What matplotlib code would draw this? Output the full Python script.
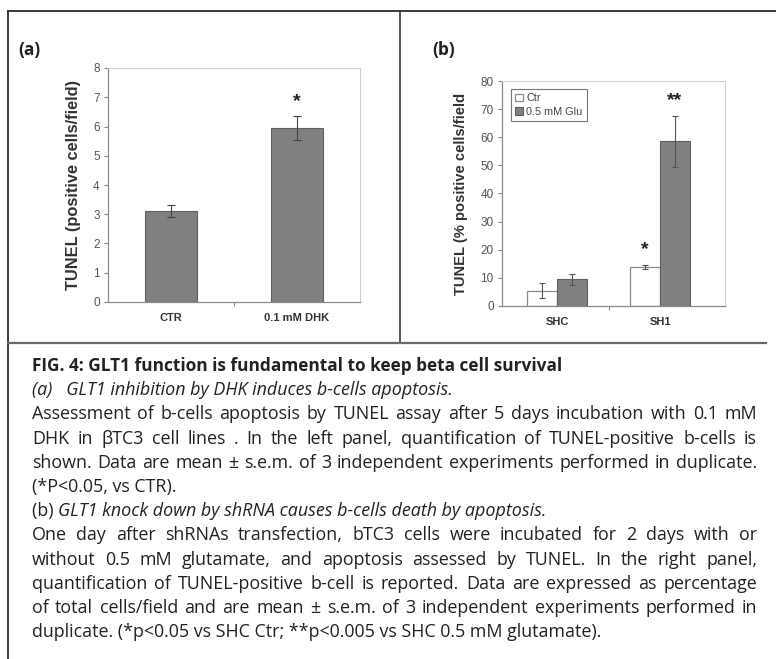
import matplotlib
matplotlib.use('Agg')
import matplotlib.pyplot as plt
from matplotlib.lines import Line2D
import numpy as np

plt.rcParams['font.family'] = ['Liberation Sans', 'DejaVu Sans']

# ---------------- data ----------------
a_categories = ['CTR', '0.1 mM DHK']
a_values = [3.1, 5.95]
a_errors = [0.2, 0.4]
a_stars = ['', '*']

b_categories = ['SHC', 'SH1']
b_series = ['Ctr', '0.5 mM Glu']
b_ctr_values = [5.5, 14.0]
b_ctr_errors = [2.5, 0.7]
b_glu_values = [9.5, 58.5]
b_glu_errors = [2.0, 9.0]
b_ctr_stars = ['', '*']
b_glu_stars = ['', '**']

caption_lines = [
    ('FIG. 4: GLT1 function is fundamental to keep beta cell survival', 'bold', False),
    ('(a)   GLT1 inhibition by DHK induces b-cells apoptosis.', 'italic', False),
    ('Assessment of b-cells apoptosis by TUNEL assay after 5 days incubation with 0.1 mM', 'normal', True),
    ('DHK in βTC3 cell lines . In the left panel, quantification of TUNEL-positive b-cells is', 'normal', True),
    ('shown. Data are mean ± s.e.m. of 3 independent experiments performed in duplicate.', 'normal', True),
    ('(*P<0.05, vs CTR).', 'normal', False),
    ('(b) |GLT1 knock down by shRNA causes b-cells death by apoptosis.', 'mixed', False),
    ('One day after shRNAs transfection, bTC3 cells were incubated for 2 days with or', 'normal', True),
    ('without 0.5 mM glutamate, and apoptosis assessed by TUNEL. In the right panel,', 'normal', True),
    ('quantification of TUNEL-positive b-cell is reported. Data are expressed as percentage', 'normal', True),
    ('of total cells/field and are mean ± s.e.m. of 3 independent experiments performed in', 'normal', True),
    ('duplicate. (*p<0.05 vs SHC Ctr; **p<0.005 vs SHC 0.5 mM glutamate).', 'normal', False),
]

W, H = 776, 659
fig = plt.figure(figsize=(W / 100, H / 100), dpi=100)


def fx(px):
    return px / W


def fy(py):
    return 1 - py / H


def style_axes(ax):
    for s in ['top', 'right']:
        ax.spines[s].set_color('#d0d0d0')
        ax.spines[s].set_linewidth(0.8)
    for s in ['left', 'bottom']:
        ax.spines[s].set_color('#8a8a8a')
        ax.spines[s].set_linewidth(0.9)
    ax.tick_params(axis='y', direction='out', length=3, width=0.8, color='#8a8a8a',
                   labelsize=8.5, labelcolor='#555555', pad=3)
    ax.tick_params(axis='x', which='major', length=0, labelsize=8, pad=8)
    ax.tick_params(axis='x', which='minor', direction='out', length=3, width=0.8, color='#8a8a8a')
    for lab in ax.get_xticklabels():
        lab.set_fontweight('bold')
        lab.set_color('#333333')


# ---------------- panel (a) ----------------
axa = fig.add_axes([fx(108), fy(302), fx(360) - fx(108), fy(68) - fy(302)])
xa = np.arange(len(a_categories))
axa.bar(xa, a_values, width=0.41, color='#808080', edgecolor='#606060', linewidth=0.8)
axa.errorbar(xa, a_values, yerr=a_errors, fmt='none', ecolor='#444444',
             elinewidth=0.8, capsize=3, capthick=0.8)
for x, v, e, s in zip(xa, a_values, a_errors, a_stars):
    if s:
        axa.text(x, v + e + 0.2, s, ha='center', va='bottom', fontsize=14,
                 fontweight='bold', color='#222222')
axa.set_xlim(-0.5, 1.5)
axa.set_ylim(0, 8)
axa.set_yticks(range(0, 9))
axa.set_xticks(xa)
axa.set_xticklabels(a_categories)
axa.set_xticks([0.5], minor=True)
axa.set_ylabel('TUNEL (positive cells/field)', fontsize=11.8, fontweight='bold',
               color='#333333', labelpad=9)
style_axes(axa)

# ---------------- panel (b) ----------------
axb = fig.add_axes([fx(502), fy(306), fx(725) - fx(502), fy(81) - fy(306)])
xb = np.arange(len(b_categories))
bw = 0.29
axb.bar(xb - bw / 2, b_ctr_values, width=bw, color='white', edgecolor='#8a8a8a',
        linewidth=0.9, label=b_series[0])
axb.bar(xb + bw / 2, b_glu_values, width=bw, color='#808080', edgecolor='#606060',
        linewidth=0.8, label=b_series[1])
axb.errorbar(xb - bw / 2, b_ctr_values, yerr=b_ctr_errors, fmt='none', ecolor='#555555',
             elinewidth=0.8, capsize=2.5, capthick=0.8)
axb.errorbar(xb + bw / 2, b_glu_values, yerr=b_glu_errors, fmt='none', ecolor='#555555',
             elinewidth=0.8, capsize=2.5, capthick=0.8)
for x, v, e, s in zip(xb - bw / 2, b_ctr_values, b_ctr_errors, b_ctr_stars):
    if s:
        axb.text(x, v + e + 2.5, s, ha='center', va='bottom', fontsize=14,
                 fontweight='bold', color='#222222')
for x, v, e, s in zip(xb + bw / 2, b_glu_values, b_glu_errors, b_glu_stars):
    if s:
        axb.text(x, v + e + 2.5, s, ha='center', va='bottom', fontsize=14,
                 fontweight='bold', color='#222222')
axb.set_xlim(-0.534, 1.63)
axb.set_ylim(0, 80)
axb.set_yticks(range(0, 81, 10))
axb.set_xticks(xb)
axb.set_xticklabels(b_categories)
axb.set_xticks([0.5], minor=True)
axb.set_ylabel('TUNEL (% positive cells/field', fontsize=10.6, fontweight='bold',
               color='#333333', labelpad=9)
style_axes(axb)
leg = axb.legend(loc='upper left', bbox_to_anchor=(0.04, 0.965), fontsize=7.8,
                 frameon=True, fancybox=False, edgecolor='#555555', handlelength=0.7,
                 handleheight=0.7, handletextpad=0.3, borderpad=0.4, labelspacing=0.35,
                 borderaxespad=0)
leg.get_frame().set_linewidth(0.8)
for t in leg.get_texts():
    t.set_color('#444444')

# panel letters
fig.text(fx(18), fy(50), '(a)', fontsize=12.5, fontweight='bold', va='center',
         family=['Open Sans', 'DejaVu Sans'], color='#222222')
fig.text(fx(432), fy(50), '(b)', fontsize=12.5, fontweight='bold', va='center',
         family=['Open Sans', 'DejaVu Sans'], color='#222222')

# ---------------- frame lines ----------------
lc = '#3a3a3a'
fig.add_artist(Line2D([fx(8), fx(776)], [fy(11), fy(11)], color=lc, lw=1.4))
fig.add_artist(Line2D([fx(8), fx(8)], [fy(11), fy(659)], color=lc, lw=1.4))
fig.add_artist(Line2D([fx(400), fx(400)], [fy(11), fy(343)], color=lc, lw=1.2))
fig.add_artist(Line2D([fx(8), fx(766)], [fy(343), fy(343)], color='#6a6a6a', lw=1.6))

# ---------------- caption ----------------
cap_font = ['Open Sans', 'DejaVu Sans']
cap_color = '#222222'
x0, x1 = 32, 757
y0, dy = 366, 24.2
renderer = fig.canvas.get_renderer()


def cap_size(kind):
    return 12.4 if kind == 'bold' else 12.9


def word_width(word, size, **kw):
    t = fig.text(0, 0, word, fontsize=size, family=cap_font, **kw)
    w = t.get_window_extent(renderer).width
    t.remove()
    return w


for i, (line, kind, justify) in enumerate(caption_lines):
    y = fy(y0 + dy * i)
    size = cap_size(kind)
    if kind == 'mixed':
        pre, post = line.split('|')
        fig.text(fx(x0), y, pre, fontsize=size, family=cap_font, va='center',
                 color=cap_color)
        w = word_width(pre, size)
        fig.text(fx(x0) + w / W, y, post, fontsize=size, family=cap_font,
                 style='italic', va='center', color=cap_color)
        continue
    kw = {}
    if kind == 'bold':
        kw['fontweight'] = 'bold'
    if kind == 'italic':
        kw['style'] = 'italic'
    if not justify:
        fig.text(fx(x0), y, line, fontsize=size, family=cap_font, va='center',
                 color=cap_color, **kw)
        continue
    words = line.split(' ')
    widths = [word_width(wd, size, **kw) for wd in words]
    gap = ((x1 - x0) - sum(widths)) / (len(words) - 1)
    x = x0
    for wd, w in zip(words, widths):
        fig.text(fx(x), y, wd, fontsize=size, family=cap_font, va='center',
                 color=cap_color, **kw)
        x += w + gap

fig.savefig('out.png', dpi=100, facecolor='white')
